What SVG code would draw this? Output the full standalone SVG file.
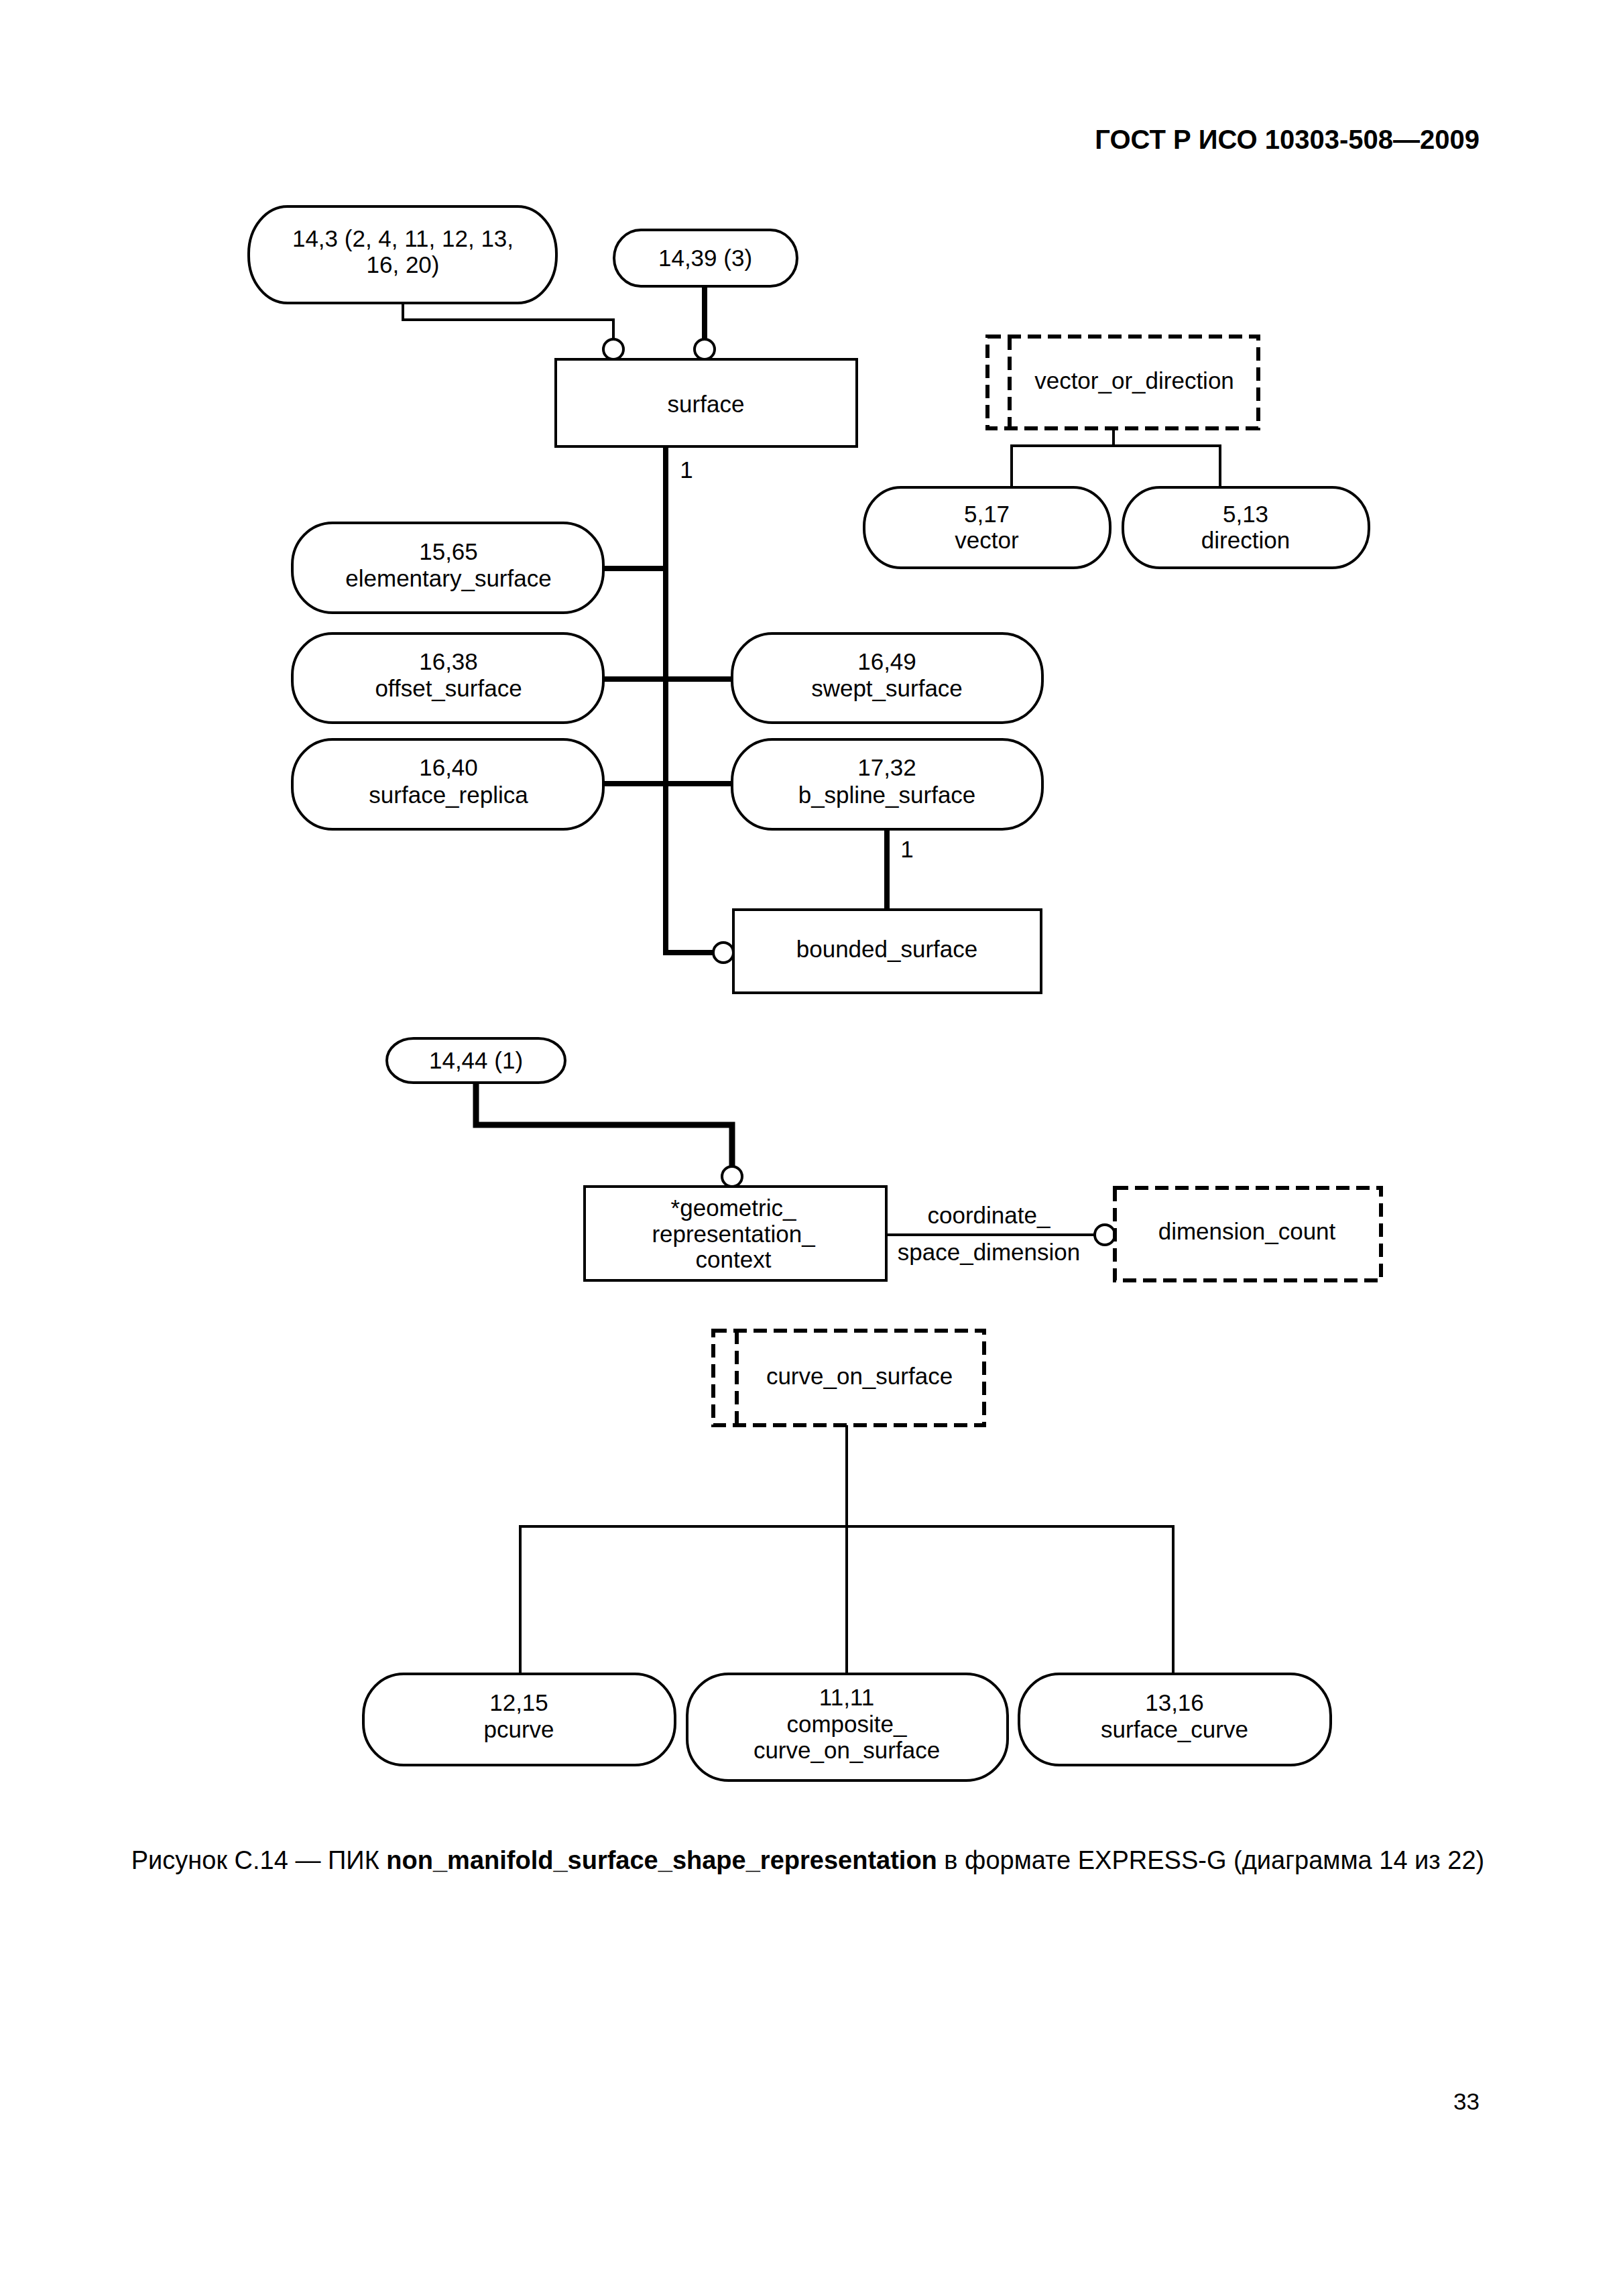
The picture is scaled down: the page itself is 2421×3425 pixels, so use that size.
<svg xmlns="http://www.w3.org/2000/svg" width="2421" height="3425" viewBox="0 0 2421 3425">
<style>
.n{fill:#fff;stroke:#000;stroke-width:4}
.d{fill:none;stroke:#000;stroke-width:6;stroke-dasharray:20 10}
.t{font-family:"Liberation Sans",Arial,sans-serif;font-size:35px;text-anchor:middle;fill:#000}
.thin{stroke:#000;stroke-width:4;fill:none}
.thick{stroke:#000;stroke-width:8;fill:none}
.c{fill:#fff;stroke:#000;stroke-width:4}
</style>
<rect width="2421" height="3425" fill="#fff"/>
<text x="2207" y="222" style="font-family:'Liberation Sans',Arial,sans-serif;font-size:40px;font-weight:bold;text-anchor:end">ГОСТ Р ИСО 10303-508—2009</text>

<g id="connectors">
<polyline class="thin" points="601,452 601,477 915,477 915,506"/>
<line class="thick" x1="1051" y1="427" x2="1051" y2="506"/>
<polyline class="thick" points="993,666 993,1421 1064,1421"/>
<line class="thick" x1="900" y1="848" x2="993" y2="848"/>
<line class="thick" x1="900" y1="1013" x2="1092" y2="1013"/>
<line class="thick" x1="900" y1="1169" x2="1092" y2="1169"/>
<line class="thick" x1="1323" y1="1237" x2="1323" y2="1356"/>
<polyline class="thin" points="1661,639 1661,665"/>
<polyline class="thin" points="1509,727 1509,665 1820,665 1820,727"/>
<polyline points="710,1615 710,1678 1092,1678 1092,1740" style="stroke:#000;stroke-width:9;fill:none"/>
<line class="thin" x1="1322" y1="1842" x2="1633" y2="1842"/>
<line class="thin" x1="1263" y1="2126" x2="1263" y2="2497"/>
<polyline class="thin" points="776,2497 776,2277 1750,2277 1750,2497"/>
<circle class="c" cx="915" cy="521" r="15"/>
<circle class="c" cx="1051" cy="521" r="15"/>
<circle class="c" cx="1079" cy="1421" r="15"/>
<circle class="c" cx="1092" cy="1755" r="15"/>
<circle class="c" cx="1648" cy="1842" r="15"/>
<text class="t" x="1024" y="713">1</text>
<text class="t" x="1353" y="1279">1</text>
<text class="t" x="1475" y="1825">coordinate_</text>
<text class="t" x="1475" y="1880">space_dimension</text>
</g>

<g id="n_14_3">
<rect class="n" x="371" y="308" width="459" height="144" rx="58" ry="70"/>
<text class="t" x="601" y="368">14,3 (2, 4, 11, 12, 13,</text>
<text class="t" x="601" y="407">16, 20)</text>
</g>
<g id="n_14_39">
<rect class="n" x="916" y="343" width="273" height="84" rx="40" ry="42"/>
<text class="t" x="1052" y="397">14,39 (3)</text>
</g>
<g id="surface">
<rect class="n" x="829" y="536" width="449" height="130"/>
<text class="t" x="1053" y="615">surface</text>
</g>
<g id="elementary_surface">
<rect class="n" x="436" y="780" width="464" height="134" rx="60" ry="62"/>
<text class="t" x="669" y="835">15,65</text>
<text class="t" x="669" y="875">elementary_surface</text>
</g>
<g id="offset_surface">
<rect class="n" x="436" y="945" width="464" height="133" rx="60" ry="62"/>
<text class="t" x="669" y="999">16,38</text>
<text class="t" x="669" y="1039">offset_surface</text>
</g>
<g id="swept_surface">
<rect class="n" x="1092" y="945" width="463" height="133" rx="60" ry="62"/>
<text class="t" x="1323" y="999">16,49</text>
<text class="t" x="1323" y="1039">swept_surface</text>
</g>
<g id="surface_replica">
<rect class="n" x="436" y="1103" width="464" height="134" rx="60" ry="62"/>
<text class="t" x="669" y="1157">16,40</text>
<text class="t" x="669" y="1198">surface_replica</text>
</g>
<g id="b_spline_surface">
<rect class="n" x="1092" y="1103" width="463" height="134" rx="60" ry="62"/>
<text class="t" x="1323" y="1157">17,32</text>
<text class="t" x="1323" y="1198">b_spline_surface</text>
</g>
<g id="bounded_surface">
<rect class="n" x="1094" y="1357" width="459" height="124"/>
<text class="t" x="1323" y="1428">bounded_surface</text>
</g>
<g id="vector_or_direction">
<rect class="d" x="1473" y="502" width="404" height="137"/>
<line class="d" x1="1506" y1="502" x2="1506" y2="639"/>
<text class="t" x="1692" y="580">vector_or_direction</text>
</g>
<g id="vector">
<rect class="n" x="1289" y="727" width="367" height="120" rx="55" ry="58"/>
<text class="t" x="1472" y="779">5,17</text>
<text class="t" x="1472" y="818">vector</text>
</g>
<g id="direction">
<rect class="n" x="1675" y="727" width="367" height="120" rx="55" ry="58"/>
<text class="t" x="1858" y="779">5,13</text>
<text class="t" x="1858" y="818">direction</text>
</g>
<g id="n_14_44">
<rect class="n" x="577" y="1549" width="266" height="66" rx="40" ry="33"/>
<text class="t" x="710" y="1594">14,44 (1)</text>
</g>
<g id="geometric_representation_context">
<rect class="n" x="872" y="1770" width="450" height="140"/>
<text class="t" x="1094" y="1814">*geometric_</text>
<text class="t" x="1094" y="1853">representation_</text>
<text class="t" x="1094" y="1891">context</text>
</g>
<g id="dimension_count">
<rect class="d" x="1663" y="1772" width="397" height="138"/>
<text class="t" x="1860" y="1849">dimension_count</text>
</g>
<g id="curve_on_surface">
<rect class="d" x="1064" y="1985" width="404" height="141"/>
<line class="d" x1="1099" y1="1985" x2="1099" y2="2126"/>
<text class="t" x="1282" y="2065">curve_on_surface</text>
</g>
<g id="pcurve">
<rect class="n" x="542" y="2497" width="465" height="136" rx="60" ry="62"/>
<text class="t" x="774" y="2552">12,15</text>
<text class="t" x="774" y="2592">pcurve</text>
</g>
<g id="composite_curve_on_surface">
<rect class="n" x="1025" y="2497" width="478" height="159" rx="62" ry="62"/>
<text class="t" x="1263" y="2544">11,11</text>
<text class="t" x="1263" y="2584">composite_</text>
<text class="t" x="1263" y="2623">curve_on_surface</text>
</g>
<g id="surface_curve">
<rect class="n" x="1520" y="2497" width="465" height="136" rx="60" ry="62"/>
<text class="t" x="1752" y="2552">13,16</text>
<text class="t" x="1752" y="2592">surface_curve</text>
</g>

<text x="1205" y="2788" style="font-family:'Liberation Sans',Arial,sans-serif;font-size:38px;text-anchor:middle">Рисунок С.14 — ПИК <tspan font-weight="bold">non_manifold_surface_shape_representation</tspan> в формате EXPRESS-G (диаграмма 14 из 22)</text>
<text x="2207" y="3147" style="font-family:'Liberation Sans',Arial,sans-serif;font-size:35px;text-anchor:end">33</text>
</svg>
